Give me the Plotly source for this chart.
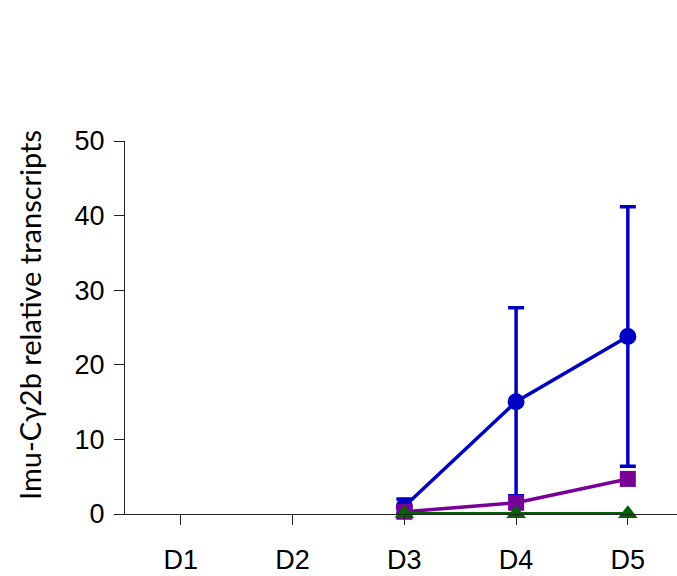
import plotly.graph_objects as go

days = ["D1", "D2", "D3", "D4", "D5"]

# Group means and SD (only D3-D5 measured)
blue_x = ["D3", "D4", "D5"]
blue_y = [1.0, 15.05, 23.8]
blue_err = [1.0, 12.6, 17.4]

purple_x = ["D3", "D4", "D5"]
purple_y = [0.3, 1.5, 4.7]

green_x = ["D3", "D4", "D5"]
green_y = [0.05, 0.05, 0.05]

y_title = "Imu-Cγ2b relative transcripts"

BLUE = "#0000C0"
PURPLE = "#780096"
GREEN = "#006400"

fig = go.Figure()

fig.add_trace(go.Scatter(
    x=blue_x, y=blue_y, mode="lines+markers", cliponaxis=False,
    line=dict(color=BLUE, width=3.5),
    marker=dict(symbol="circle", size=17, color=BLUE),
    error_y=dict(type="data", array=blue_err, color=BLUE, thickness=3.5, width=8),
    showlegend=False,
))
fig.add_trace(go.Scatter(
    x=purple_x, y=purple_y, mode="lines+markers", cliponaxis=False,
    line=dict(color=PURPLE, width=3.5),
    marker=dict(symbol="square", size=16, color=PURPLE),
    showlegend=False,
))
fig.add_trace(go.Scatter(
    x=green_x, y=green_y, mode="lines+markers", cliponaxis=False,
    line=dict(color=GREEN, width=3.5),
    marker=dict(symbol="triangle-up", size=17, color=GREEN),
    showlegend=False,
))

tick_font = dict(family="Liberation Sans, Arial, sans-serif", size=27, color="black")
title_font = dict(family="Lato, sans-serif", size=29, color="black")

fig.update_layout(
    width=677, height=576,
    margin=dict(l=125, r=0, t=141, b=62, autoexpand=False),
    paper_bgcolor="white", plot_bgcolor="white",
    font=tick_font,
    xaxis=dict(
        type="category", categoryorder="array", categoryarray=days,
        range=[-0.5, 4.44],
        showline=True, linecolor="#222", linewidth=1,
        ticks="outside", ticklen=10, tickcolor="#222", tickwidth=1,
        showgrid=False, zeroline=False, automargin=False,
        tickfont=tick_font, ticklabelstandoff=12,
    ),
    yaxis=dict(
        range=[0, 50], tickvals=[0, 10, 20, 30, 40, 50],
        showline=True, linecolor="#222", linewidth=1,
        ticks="outside", ticklen=10, tickcolor="#222", tickwidth=1,
        showgrid=False, zeroline=False, automargin=False,
        tickfont=tick_font, ticklabelstandoff=4,
    ),
    annotations=[dict(
        text=y_title, textangle=-90, showarrow=False,
        xref="paper", yref="paper", x=0, y=(514 - 315) / 373,
        xanchor="center", yanchor="middle", xshift=-96,
        font=title_font,
    )],
)

fig.write_html("out.html")
